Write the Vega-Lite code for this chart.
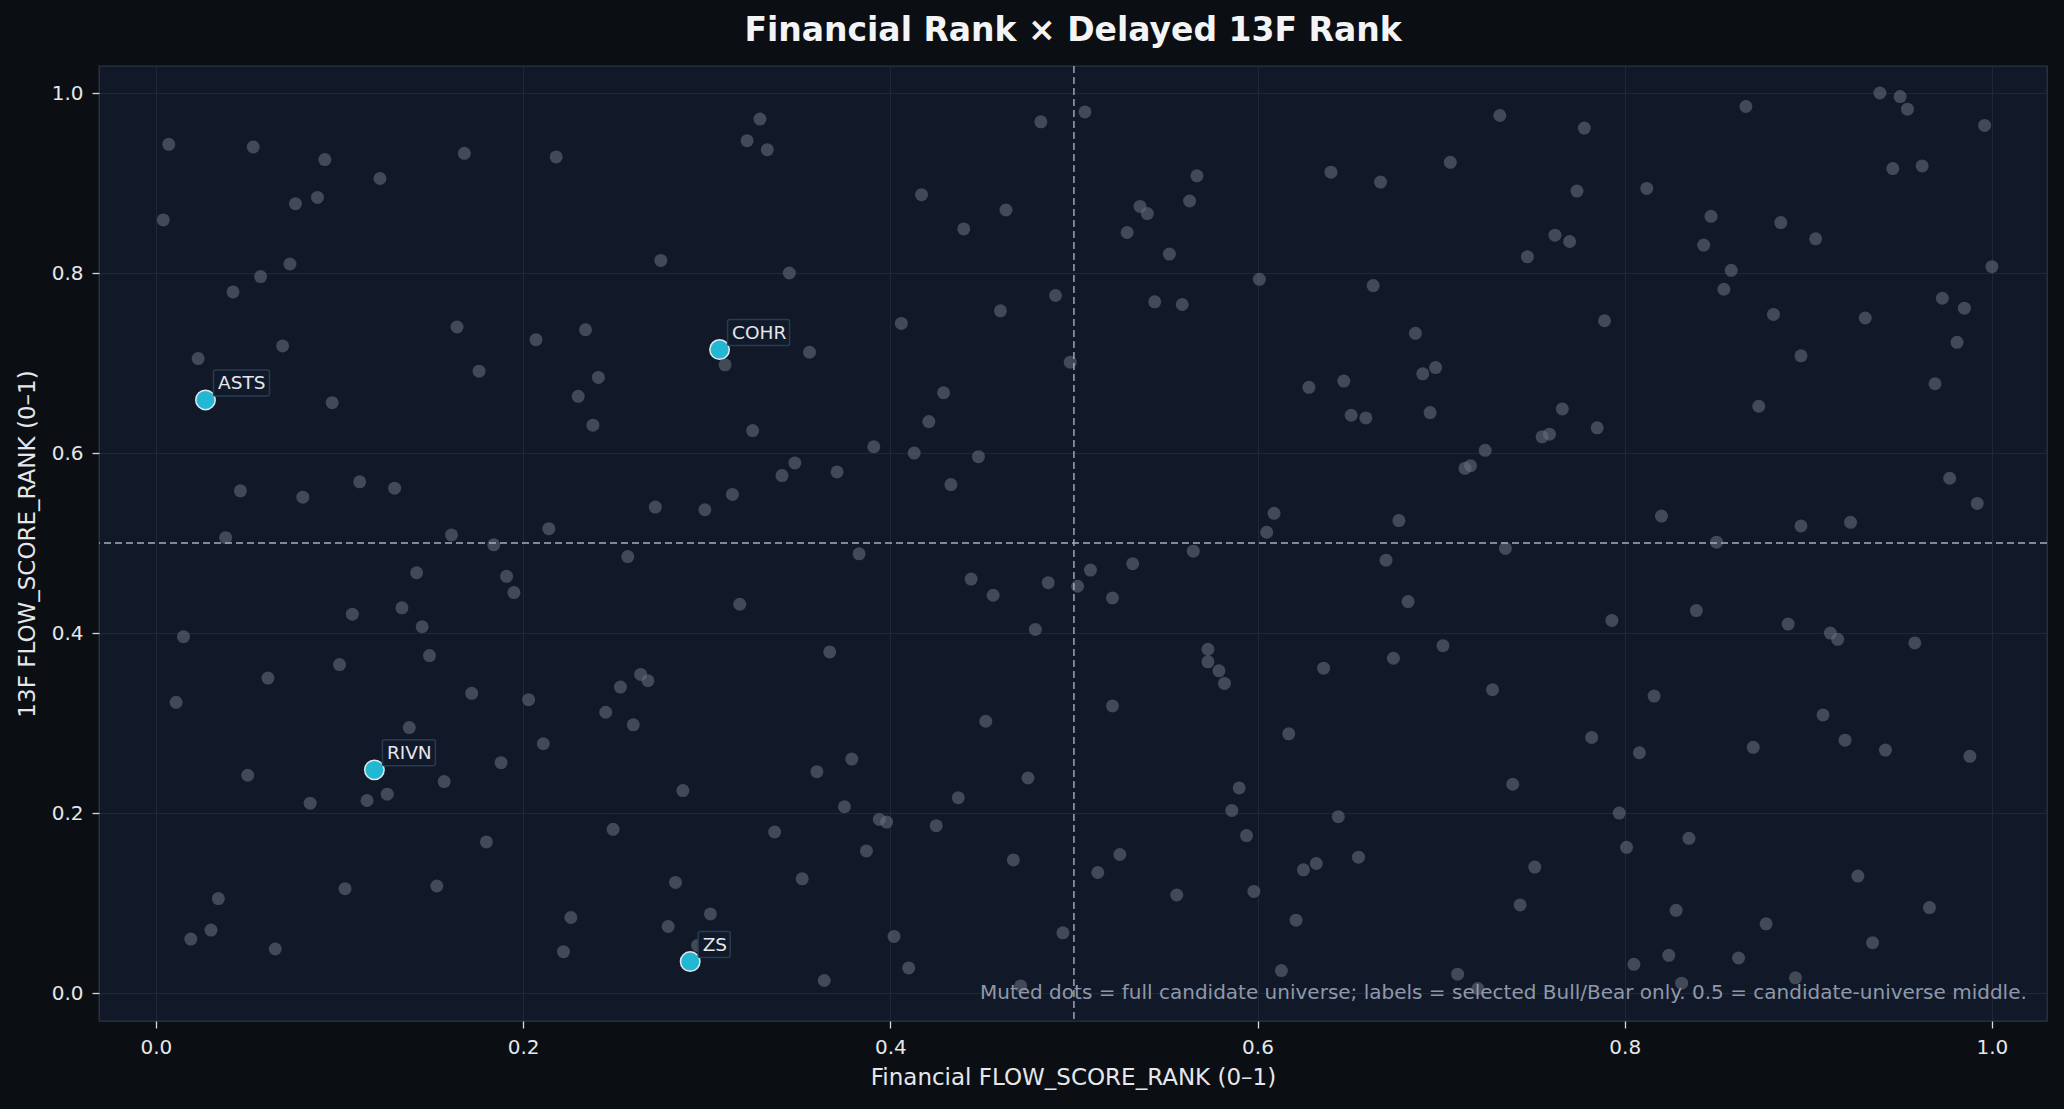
{
  "$schema": "https://vega.github.io/schema/vega-lite/v6.json",
  "width": 1948,
  "height": 955,
  "autosize": {"type": "none"},
  "padding": {"left": 99, "top": 66, "right": 17, "bottom": 88},
  "background": "#0b0e12",
  "title": {
    "text": "Financial Rank × Delayed 13F Rank",
    "fontSize": 33,
    "fontWeight": "bold",
    "color": "#f3f4f6",
    "font": "DejaVu Sans",
    "anchor": "middle",
    "frame": "group",
    "offset": 17
  },
  "datasets": {
    "universe": [
      {"x": 0.007, "y": 0.943}, {"x": 0.004, "y": 0.859}, {"x": 0.053, "y": 0.940}, {"x": 0.092, "y": 0.926},
      {"x": 0.168, "y": 0.933}, {"x": 0.218, "y": 0.929}, {"x": 0.122, "y": 0.905}, {"x": 0.076, "y": 0.877},
      {"x": 0.088, "y": 0.884}, {"x": 0.322, "y": 0.947}, {"x": 0.329, "y": 0.971}, {"x": 0.073, "y": 0.810},
      {"x": 0.057, "y": 0.796}, {"x": 0.042, "y": 0.779}, {"x": 0.275, "y": 0.814}, {"x": 0.164, "y": 0.740},
      {"x": 0.069, "y": 0.719}, {"x": 0.023, "y": 0.705}, {"x": 0.027, "y": 0.659}, {"x": 0.176, "y": 0.691},
      {"x": 0.207, "y": 0.726}, {"x": 0.234, "y": 0.737}, {"x": 0.241, "y": 0.684}, {"x": 0.230, "y": 0.663},
      {"x": 0.238, "y": 0.631}, {"x": 0.096, "y": 0.656}, {"x": 0.307, "y": 0.715}, {"x": 0.310, "y": 0.698},
      {"x": 0.325, "y": 0.625}, {"x": 0.111, "y": 0.568}, {"x": 0.130, "y": 0.561}, {"x": 0.046, "y": 0.558},
      {"x": 0.080, "y": 0.551}, {"x": 0.272, "y": 0.540}, {"x": 0.299, "y": 0.537}, {"x": 0.314, "y": 0.554},
      {"x": 0.214, "y": 0.516}, {"x": 0.161, "y": 0.509}, {"x": 0.038, "y": 0.506}, {"x": 0.184, "y": 0.498},
      {"x": 0.257, "y": 0.485},
      {"x": 0.333, "y": 0.937}, {"x": 0.482, "y": 0.968}, {"x": 0.506, "y": 0.979}, {"x": 0.417, "y": 0.887},
      {"x": 0.463, "y": 0.870}, {"x": 0.440, "y": 0.849}, {"x": 0.345, "y": 0.800}, {"x": 0.406, "y": 0.744},
      {"x": 0.490, "y": 0.775}, {"x": 0.460, "y": 0.758}, {"x": 0.356, "y": 0.712}, {"x": 0.498, "y": 0.701},
      {"x": 0.567, "y": 0.908}, {"x": 0.536, "y": 0.874}, {"x": 0.540, "y": 0.866}, {"x": 0.563, "y": 0.880},
      {"x": 0.529, "y": 0.845}, {"x": 0.552, "y": 0.821}, {"x": 0.601, "y": 0.793}, {"x": 0.544, "y": 0.768},
      {"x": 0.559, "y": 0.765}, {"x": 0.640, "y": 0.912}, {"x": 0.667, "y": 0.901}, {"x": 0.663, "y": 0.786},
      {"x": 0.429, "y": 0.667}, {"x": 0.421, "y": 0.635}, {"x": 0.391, "y": 0.607}, {"x": 0.413, "y": 0.600},
      {"x": 0.448, "y": 0.596}, {"x": 0.348, "y": 0.589}, {"x": 0.341, "y": 0.575}, {"x": 0.371, "y": 0.579},
      {"x": 0.433, "y": 0.565}, {"x": 0.628, "y": 0.673}, {"x": 0.647, "y": 0.680}, {"x": 0.651, "y": 0.642},
      {"x": 0.659, "y": 0.639}, {"x": 0.609, "y": 0.533}, {"x": 0.605, "y": 0.512}, {"x": 0.677, "y": 0.525},
      {"x": 0.383, "y": 0.488}, {"x": 0.565, "y": 0.491}, {"x": 0.532, "y": 0.477},
      {"x": 0.732, "y": 0.975}, {"x": 0.778, "y": 0.961}, {"x": 0.705, "y": 0.923}, {"x": 0.774, "y": 0.891},
      {"x": 0.747, "y": 0.818}, {"x": 0.762, "y": 0.842}, {"x": 0.770, "y": 0.835}, {"x": 0.686, "y": 0.733},
      {"x": 0.690, "y": 0.688}, {"x": 0.697, "y": 0.695}, {"x": 0.694, "y": 0.645}, {"x": 0.789, "y": 0.747},
      {"x": 0.766, "y": 0.649}, {"x": 0.755, "y": 0.618}, {"x": 0.759, "y": 0.621}, {"x": 0.785, "y": 0.628},
      {"x": 0.724, "y": 0.603}, {"x": 0.713, "y": 0.583}, {"x": 0.716, "y": 0.586}, {"x": 0.735, "y": 0.494},
      {"x": 0.850, "y": 0.501}, {"x": 0.866, "y": 0.985}, {"x": 0.939, "y": 1.000}, {"x": 0.950, "y": 0.996},
      {"x": 0.954, "y": 0.982}, {"x": 0.996, "y": 0.964}, {"x": 0.946, "y": 0.916}, {"x": 0.962, "y": 0.919},
      {"x": 0.812, "y": 0.894}, {"x": 0.847, "y": 0.863}, {"x": 0.843, "y": 0.831}, {"x": 0.885, "y": 0.856},
      {"x": 0.904, "y": 0.838}, {"x": 0.858, "y": 0.803}, {"x": 0.854, "y": 0.782}, {"x": 1.000, "y": 0.807},
      {"x": 0.881, "y": 0.754}, {"x": 0.931, "y": 0.750}, {"x": 0.973, "y": 0.772}, {"x": 0.985, "y": 0.761},
      {"x": 0.981, "y": 0.723}, {"x": 0.896, "y": 0.708}, {"x": 0.969, "y": 0.677}, {"x": 0.873, "y": 0.652},
      {"x": 0.977, "y": 0.572}, {"x": 0.992, "y": 0.544}, {"x": 0.820, "y": 0.530}, {"x": 0.896, "y": 0.519},
      {"x": 0.923, "y": 0.523},
      {"x": 0.142, "y": 0.467}, {"x": 0.191, "y": 0.463}, {"x": 0.195, "y": 0.445}, {"x": 0.107, "y": 0.421},
      {"x": 0.134, "y": 0.428}, {"x": 0.145, "y": 0.407}, {"x": 0.015, "y": 0.396}, {"x": 0.149, "y": 0.375},
      {"x": 0.100, "y": 0.365}, {"x": 0.061, "y": 0.350}, {"x": 0.011, "y": 0.323}, {"x": 0.172, "y": 0.333},
      {"x": 0.203, "y": 0.326}, {"x": 0.253, "y": 0.340}, {"x": 0.264, "y": 0.354}, {"x": 0.268, "y": 0.347},
      {"x": 0.245, "y": 0.312}, {"x": 0.260, "y": 0.298}, {"x": 0.138, "y": 0.295}, {"x": 0.211, "y": 0.277},
      {"x": 0.119, "y": 0.248}, {"x": 0.050, "y": 0.242}, {"x": 0.188, "y": 0.256}, {"x": 0.157, "y": 0.235},
      {"x": 0.126, "y": 0.221}, {"x": 0.115, "y": 0.214}, {"x": 0.084, "y": 0.211}, {"x": 0.287, "y": 0.225},
      {"x": 0.249, "y": 0.182}, {"x": 0.180, "y": 0.168}, {"x": 0.103, "y": 0.116}, {"x": 0.153, "y": 0.119},
      {"x": 0.283, "y": 0.123}, {"x": 0.034, "y": 0.105}, {"x": 0.226, "y": 0.084}, {"x": 0.302, "y": 0.088},
      {"x": 0.279, "y": 0.074}, {"x": 0.030, "y": 0.070}, {"x": 0.019, "y": 0.060}, {"x": 0.065, "y": 0.049},
      {"x": 0.222, "y": 0.046}, {"x": 0.295, "y": 0.053}, {"x": 0.291, "y": 0.035}, {"x": 0.318, "y": 0.432},
      {"x": 0.444, "y": 0.460}, {"x": 0.456, "y": 0.442}, {"x": 0.486, "y": 0.456}, {"x": 0.502, "y": 0.452},
      {"x": 0.509, "y": 0.470}, {"x": 0.521, "y": 0.439}, {"x": 0.479, "y": 0.404}, {"x": 0.367, "y": 0.379},
      {"x": 0.573, "y": 0.382}, {"x": 0.573, "y": 0.368}, {"x": 0.579, "y": 0.358}, {"x": 0.582, "y": 0.344},
      {"x": 0.636, "y": 0.361}, {"x": 0.674, "y": 0.372}, {"x": 0.521, "y": 0.319}, {"x": 0.452, "y": 0.302},
      {"x": 0.617, "y": 0.288}, {"x": 0.379, "y": 0.260}, {"x": 0.360, "y": 0.246}, {"x": 0.375, "y": 0.207},
      {"x": 0.394, "y": 0.193}, {"x": 0.398, "y": 0.190}, {"x": 0.425, "y": 0.186}, {"x": 0.437, "y": 0.217},
      {"x": 0.475, "y": 0.239}, {"x": 0.590, "y": 0.228}, {"x": 0.586, "y": 0.203}, {"x": 0.644, "y": 0.196},
      {"x": 0.594, "y": 0.175}, {"x": 0.337, "y": 0.179}, {"x": 0.387, "y": 0.158}, {"x": 0.352, "y": 0.127},
      {"x": 0.467, "y": 0.148}, {"x": 0.525, "y": 0.154}, {"x": 0.513, "y": 0.134}, {"x": 0.625, "y": 0.137},
      {"x": 0.632, "y": 0.144}, {"x": 0.655, "y": 0.151}, {"x": 0.556, "y": 0.109}, {"x": 0.598, "y": 0.113},
      {"x": 0.621, "y": 0.081}, {"x": 0.402, "y": 0.063}, {"x": 0.494, "y": 0.067}, {"x": 0.410, "y": 0.028},
      {"x": 0.364, "y": 0.014}, {"x": 0.471, "y": 0.008}, {"x": 0.613, "y": 0.025}, {"x": 0.670, "y": 0.481},
      {"x": 0.682, "y": 0.435}, {"x": 0.793, "y": 0.414}, {"x": 0.839, "y": 0.425}, {"x": 0.889, "y": 0.410},
      {"x": 0.912, "y": 0.400}, {"x": 0.916, "y": 0.393}, {"x": 0.958, "y": 0.389}, {"x": 0.701, "y": 0.386},
      {"x": 0.728, "y": 0.337}, {"x": 0.816, "y": 0.330}, {"x": 0.908, "y": 0.309}, {"x": 0.782, "y": 0.284},
      {"x": 0.808, "y": 0.267}, {"x": 0.870, "y": 0.273}, {"x": 0.920, "y": 0.281}, {"x": 0.942, "y": 0.270},
      {"x": 0.988, "y": 0.263}, {"x": 0.739, "y": 0.232}, {"x": 0.797, "y": 0.200}, {"x": 0.835, "y": 0.172},
      {"x": 0.801, "y": 0.162}, {"x": 0.751, "y": 0.140}, {"x": 0.927, "y": 0.130}, {"x": 0.743, "y": 0.098},
      {"x": 0.828, "y": 0.092}, {"x": 0.877, "y": 0.077}, {"x": 0.966, "y": 0.095}, {"x": 0.935, "y": 0.056},
      {"x": 0.824, "y": 0.042}, {"x": 0.862, "y": 0.039}, {"x": 0.805, "y": 0.032}, {"x": 0.709, "y": 0.021},
      {"x": 0.720, "y": 0.005}, {"x": 0.831, "y": 0.011}, {"x": 0.893, "y": 0.017}
    ],
    "picks": [
      {"ticker": "ASTS", "x": 0.027, "y": 0.659},
      {"ticker": "COHR", "x": 0.307, "y": 0.715},
      {"ticker": "RIVN", "x": 0.119, "y": 0.248},
      {"ticker": "ZS", "x": 0.291, "y": 0.035}
    ],
    "single": [{}]
  },
  "layer": [
    {
      "data": {"name": "universe"},
      "mark": {"type": "circle", "size": 169, "color": "#6b7280", "opacity": 0.55},
      "encoding": {
        "x": {
          "field": "x",
          "type": "quantitative",
          "title": "Financial FLOW_SCORE_RANK (0–1)",
          "scale": {"domain": [-0.031, 1.03], "nice": false, "zero": false}
        },
        "y": {
          "field": "y",
          "type": "quantitative",
          "title": "13F FLOW_SCORE_RANK (0–1)",
          "scale": {"domain": [-0.031, 1.03], "nice": false, "zero": false}
        }
      }
    },
    {
      "data": {"name": "single"},
      "mark": {"type": "rule", "color": "#a3aec0", "strokeWidth": 1.4, "strokeDash": [7, 4]},
      "encoding": {"x": {"datum": 0.5, "type": "quantitative", "title": "Financial FLOW_SCORE_RANK (0–1)"}}
    },
    {
      "data": {"name": "single"},
      "mark": {"type": "rule", "color": "#a3aec0", "strokeWidth": 1.4, "strokeDash": [7, 4]},
      "encoding": {"y": {"datum": 0.5, "type": "quantitative", "title": "13F FLOW_SCORE_RANK (0–1)"}}
    },
    {
      "data": {"name": "picks"},
      "mark": {"type": "circle", "size": 380, "color": "#22b8d4", "stroke": "#e2e8f0", "strokeWidth": 1.5, "opacity": 1},
      "encoding": {
        "x": {"field": "x", "type": "quantitative", "title": "Financial FLOW_SCORE_RANK (0–1)"},
        "y": {"field": "y", "type": "quantitative", "title": "13F FLOW_SCORE_RANK (0–1)"}
      }
    },
    {
      "data": {"name": "picks"},
      "mark": {"type": "point", "filled": true, "size": 4, "fill": "#111a2b", "stroke": "#2c3a50", "strokeWidth": 1.5, "opacity": 1},
      "encoding": {
        "x": {"field": "x", "type": "quantitative", "title": "Financial FLOW_SCORE_RANK (0–1)"},
        "y": {"field": "y", "type": "quantitative", "title": "13F FLOW_SCORE_RANK (0–1)"},
        "shape": {
          "field": "ticker",
          "type": "nominal",
          "legend": null,
          "scale": {
            "domain": ["ASTS", "COHR", "RIVN", "ZS"],
            "range": [
              "M10,-30H62A2,2,0,0,1,64,-28V-6A2,2,0,0,1,62,-4H10A2,2,0,0,1,8,-6V-28A2,2,0,0,1,10,-30Z",
              "M10,-30H68A2,2,0,0,1,70,-28V-6A2,2,0,0,1,68,-4H10A2,2,0,0,1,8,-6V-28A2,2,0,0,1,10,-30Z",
              "M10,-30H59A2,2,0,0,1,61,-28V-6A2,2,0,0,1,59,-4H10A2,2,0,0,1,8,-6V-28A2,2,0,0,1,10,-30Z",
              "M10,-30H38A2,2,0,0,1,40,-28V-6A2,2,0,0,1,38,-4H10A2,2,0,0,1,8,-6V-28A2,2,0,0,1,10,-30Z"
            ]
          }
        }
      }
    },
    {
      "data": {"name": "picks"},
      "mark": {"type": "text", "align": "left", "baseline": "middle", "dx": 12.5, "dy": -17, "fontSize": 18.5, "font": "DejaVu Sans", "color": "#e5e7eb"},
      "encoding": {
        "x": {"field": "x", "type": "quantitative", "title": "Financial FLOW_SCORE_RANK (0–1)"},
        "y": {"field": "y", "type": "quantitative", "title": "13F FLOW_SCORE_RANK (0–1)"},
        "text": {"field": "ticker"}
      }
    },
    {
      "data": {"name": "single"},
      "mark": {
        "type": "text",
        "align": "right",
        "baseline": "middle",
        "fontSize": 20,
        "font": "DejaVu Sans",
        "color": "#8e98aa",
        "text": "Muted dots = full candidate universe; labels = selected Bull/Bear only. 0.5 = candidate-universe middle."
      },
      "encoding": {
        "x": {"datum": 1.019, "type": "quantitative", "title": "Financial FLOW_SCORE_RANK (0–1)"},
        "y": {"datum": 0, "type": "quantitative", "title": "13F FLOW_SCORE_RANK (0–1)"}
      }
    }
  ],
  "config": {
    "font": "DejaVu Sans",
    "view": {"fill": "#111827", "stroke": "#2b3547", "strokeWidth": 1.3},
    "axis": {
      "domain": false,
      "grid": true,
      "gridColor": "#1e2838",
      "gridWidth": 1,
      "tickCount": 6,
      "tickColor": "#d6dbe3",
      "tickSize": 7,
      "tickWidth": 1.3,
      "labelColor": "#e5e7eb",
      "labelFont": "DejaVu Sans",
      "labelFontSize": 20,
      "titleColor": "#e5e7eb",
      "titleFont": "DejaVu Sans",
      "titleFontSize": 23,
      "titleFontWeight": "normal"
    },
    "axisX": {"labelPadding": 9, "titlePadding": 9},
    "axisY": {"labelPadding": 9, "titlePadding": 12}
  }
}
